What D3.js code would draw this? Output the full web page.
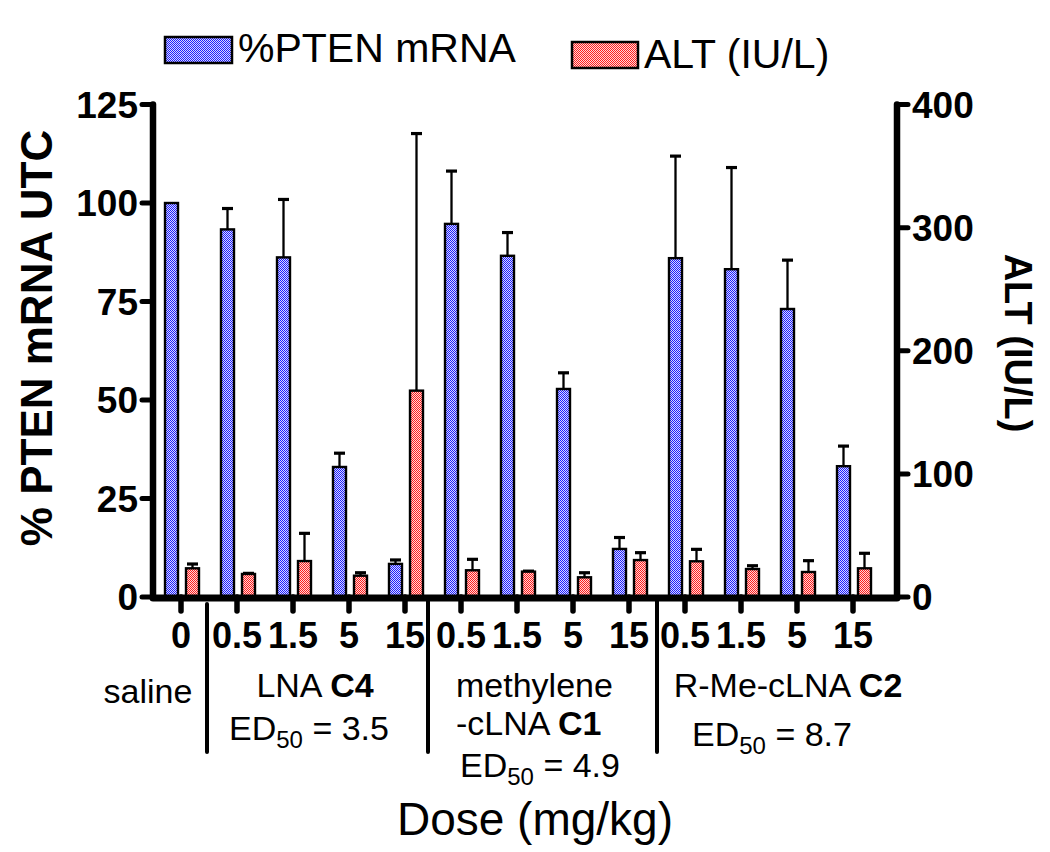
<!DOCTYPE html>
<html>
<head>
<meta charset="utf-8">
<script src="https://cdn.jsdelivr.net/npm/d3@7"></script>
<style>
  html, body { margin: 0; padding: 0; background: #fff; }
  svg { display: block; }
  text { font-family: "Liberation Sans", Arial, sans-serif; fill: #000; }
</style>
</head>
<body>
<svg id="chart" width="1050" height="852"></svg>
<script>
// ---- data ----
const categories = ["0", "0.5", "1.5", "5", "15", "0.5", "1.5", "5", "15", "0.5", "1.5", "5", "15"];
const ptenMean = [100, 93.3, 86.2, 33, 8.4, 94.7, 86.6, 52.8, 12.2, 86, 83.2, 73.1, 33.2];
const ptenErr  = [0, 5.3, 14.7, 3.5, 1.0, 13.4, 5.9, 4.1, 2.9, 25.9, 25.8, 12.4, 5.1];
const altMean  = [23.3, 18.7, 29.2, 17.3, 167.6, 21.7, 20.6, 16, 30, 29, 22.7, 20.3, 23.3];
const altErr   = [3.5, 0.5, 22.5, 2.4, 208.8, 8.9, 0.4, 3.7, 6, 9.7, 2.7, 9.2, 12.2];
const leftTicks = [0, 25, 50, 75, 100, 125];
const rightTicks = [0, 100, 200, 300, 400];
const separatorsAfter = [0, 4, 8]; // separator drawn after these category indices
const seriesNames = ["%PTEN mRNA", "ALT (IU/L)"];

const svg = d3.select("#chart");
const defs = svg.append("defs");

function checker(id, color, light) {
  const p = defs.append("pattern").attr("id", id).attr("patternUnits", "userSpaceOnUse")
    .attr("width", 2).attr("height", 2);
  p.append("rect").attr("width", 2).attr("height", 2).attr("fill", light);
  p.append("rect").attr("x", 0).attr("y", 0).attr("width", 1).attr("height", 1).attr("fill", color);
  p.append("rect").attr("x", 1).attr("y", 1).attr("width", 1).attr("height", 1).attr("fill", color);
}
checker("pBlue", "#1e1eff", "#d8d8ff");
checker("pRed", "#ff1e1e", "#ffd8d8");

const x0 = 153, x1 = 881, xRight = 897;
const yTop = 104.5, yBase = 597;

const x = d3.scaleBand().domain(d3.range(categories.length)).range([x0, x1]).padding(0);
const yL = d3.scaleLinear().domain([0, 125]).range([yBase, yTop]);
const yR = d3.scaleLinear().domain([0, 400]).range([yBase, yTop]);
const cx = i => x(i) + x.bandwidth() / 2;

const barW = 13;

// ---- bars ----
const g = svg.append("g");
categories.forEach((c, i) => {
  const eb = (xc, y0, y1) => {
    g.append("line").attr("x1", xc).attr("x2", xc).attr("y1", y0).attr("y2", y1)
      .attr("stroke", "#000").attr("stroke-width", 2.3);
    g.append("line").attr("x1", xc - 5.5).attr("x2", xc + 5.5).attr("y1", y1).attr("y2", y1)
      .attr("stroke", "#000").attr("stroke-width", 3.2);
  };
  const bx = cx(i) - 16, rx = cx(i) + 5;
  if (ptenErr[i] > 0) eb(bx + barW / 2, yL(ptenMean[i]), yL(ptenMean[i] + ptenErr[i]));
  if (altErr[i] > 0) eb(rx + barW / 2, yR(altMean[i]), yR(altMean[i] + altErr[i]));
  g.append("rect").attr("x", bx).attr("y", yL(ptenMean[i])).attr("width", barW)
    .attr("height", yBase - yL(ptenMean[i])).attr("fill", "url(#pBlue)")
    .attr("stroke", "#000").attr("stroke-width", 2.4);
  g.append("rect").attr("x", rx).attr("y", yR(altMean[i])).attr("width", barW)
    .attr("height", yBase - yR(altMean[i])).attr("fill", "url(#pRed)")
    .attr("stroke", "#000").attr("stroke-width", 2.4);
});

// ---- axes ----
const ax = svg.append("g");
ax.append("line").attr("x1", x0).attr("x2", x0).attr("y1", yTop).attr("y2", yBase)
  .attr("stroke", "#000").attr("stroke-width", 6.5).attr("stroke-linecap", "round");
leftTicks.forEach(t => {
  ax.append("line").attr("x1", x0 - 11).attr("x2", x0).attr("y1", yL(t)).attr("y2", yL(t))
    .attr("stroke", "#000").attr("stroke-width", 5).attr("stroke-linecap", "round");
  ax.append("text").attr("x", x0 - 15).attr("y", yL(t) + 13).attr("text-anchor", "end")
    .attr("font-size", 37).attr("font-weight", "bold").text(t);
});
ax.append("line").attr("x1", xRight).attr("x2", xRight).attr("y1", yTop).attr("y2", yBase)
  .attr("stroke", "#000").attr("stroke-width", 6.5).attr("stroke-linecap", "round");
rightTicks.forEach(t => {
  ax.append("line").attr("x1", xRight).attr("x2", xRight + 11).attr("y1", yR(t)).attr("y2", yR(t))
    .attr("stroke", "#000").attr("stroke-width", 5).attr("stroke-linecap", "round");
  ax.append("text").attr("x", xRight + 15).attr("y", yR(t) + 13).attr("text-anchor", "start")
    .attr("font-size", 37).attr("font-weight", "bold").text(t);
});
ax.append("line").attr("x1", x0).attr("x2", xRight).attr("y1", yBase + 1).attr("y2", yBase + 1)
  .attr("stroke", "#000").attr("stroke-width", 7).attr("stroke-linecap", "round");
categories.forEach((c, i) => {
  ax.append("line").attr("x1", cx(i)).attr("x2", cx(i)).attr("y1", yBase).attr("y2", yBase + 14)
    .attr("stroke", "#000").attr("stroke-width", 5.5).attr("stroke-linecap", "round");
  ax.append("text").attr("x", cx(i)).attr("y", 648).attr("text-anchor", "middle")
    .attr("font-size", 36).attr("font-weight", "bold").text(c);
});
separatorsAfter.forEach((s, k) => {
  const sx = x(s + 1) - (k === 0 ? 2 : k === 1 ? 5 : 0);
  ax.append("line").attr("x1", sx).attr("x2", sx).attr("y1", k === 0 ? 604 : yBase).attr("y2", 752)
    .attr("stroke", "#000").attr("stroke-width", 4).attr("stroke-linecap", "round");
});

// ---- axis titles ----
svg.append("text").attr("transform", "translate(52,338) rotate(-90)")
  .attr("text-anchor", "middle").attr("font-size", 44).attr("font-weight", "bold")
  .text("% PTEN mRNA UTC");
svg.append("text").attr("transform", "translate(1005,343) rotate(90)")
  .attr("text-anchor", "middle").attr("font-size", 38).attr("font-weight", "bold")
  .text("ALT (IU/L)");
svg.append("text").attr("x", 535).attr("y", 835).attr("text-anchor", "middle")
  .attr("font-size", 46).text("Dose (mg/kg)");

// ---- group labels ----
const lab = svg.append("g");
function textLine(xp, yp, parts, anchor) {
  const t = lab.append("text").attr("x", xp).attr("y", yp).attr("text-anchor", anchor || "middle")
    .attr("font-size", 34);
  parts.forEach(p => {
    const s = t.append("tspan").text(p.t);
    if (p.b) s.attr("font-weight", "bold");
    if (p.sub) s.attr("font-size", 24).attr("dy", 8);
    if (p.up) s.attr("dy", -8);
  });
  return t;
}
textLine(148, 703, [{t: "saline"}]);
textLine(315, 697, [{t: "LNA "}, {t: "C4", b: true}]);
textLine(309, 740, [{t: "ED"}, {t: "50", sub: true}, {t: " = 3.5", up: true}]);
textLine(456, 697, [{t: "methylene"}], "start");
textLine(456, 735, [{t: "-cLNA "}, {t: "C1", b: true}], "start");
textLine(540, 777, [{t: "ED"}, {t: "50", sub: true}, {t: " = 4.9", up: true}]);
textLine(788, 697, [{t: "R-Me-cLNA "}, {t: "C2", b: true}]);
textLine(772, 746, [{t: "ED"}, {t: "50", sub: true}, {t: " = 8.7", up: true}]);

// ---- legend ----
const leg = svg.append("g");
leg.append("rect").attr("x", 165).attr("y", 37).attr("width", 67).attr("height", 26)
  .attr("fill", "url(#pBlue)").attr("stroke", "#000").attr("stroke-width", 2.5);
leg.append("text").attr("x", 238).attr("y", 62).attr("font-size", 41).text(seriesNames[0]);
leg.append("rect").attr("x", 572).attr("y", 42).attr("width", 66).attr("height", 26)
  .attr("fill", "url(#pRed)").attr("stroke", "#000").attr("stroke-width", 2.5);
leg.append("text").attr("x", 644).attr("y", 68).attr("font-size", 41).text(seriesNames[1]);
</script>
</body>
</html>
